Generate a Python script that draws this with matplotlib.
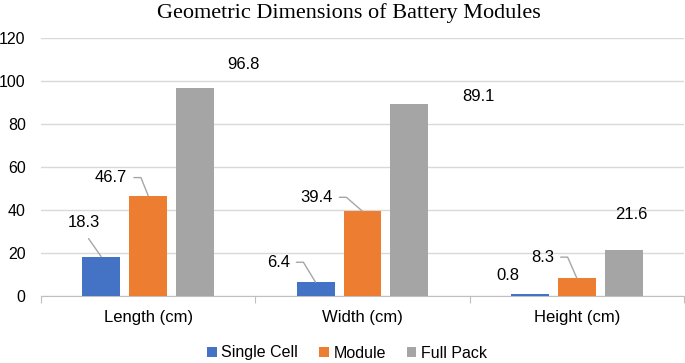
import matplotlib.pyplot as plt
import numpy as np

# data
categories = ['Length (cm)', 'Width (cm)', 'Height (cm)']
single_cell = [18.3, 6.4, 0.8]
module = [46.7, 39.4, 8.3]
full_pack = [96.8, 89.1, 21.6]

series = [('Single Cell', single_cell, '#4472C4'),
          ('Module', module, '#ED7D31'),
          ('Full Pack', full_pack, '#A5A5A5')]

# label offsets in pixels from bar top, and leader style
label_offsets = [
    [(-17, 34, 'straight'), (-37, 20, 'elbow'), (-22, 19, None)],
    [(-37, 18, 'elbow'), (-46, 14, 'elbow'), (-34, 21, 'elbow')],
    [(48, 23, None), (69, 8, None), (8, 35, None)],
]

plt.rcParams['font.family'] = ['Liberation Sans', 'DejaVu Sans']

fig = plt.figure(figsize=(6.85, 3.63), dpi=100)
ax = fig.add_axes([41/685, 1 - 296/363, 643/685, 258/363])

x = np.arange(len(categories))
step = 0.219
width = 0.177

for i, (name, vals, col) in enumerate(series):
    pos = x + (i - 1) * step
    ax.bar(pos, vals, width, color=col, label=name, zorder=3)
    for j, v in enumerate(vals):
        dx, dy, leader = label_offsets[i][j]
        txt = f'{v}'
        if leader == 'straight':
            ap = dict(arrowstyle='-', color='#A6A6A6', lw=1,
                      relpos=(0.45, 0), shrinkA=5, shrinkB=0)
        elif leader == 'elbow':
            # small gap after the text, short horizontal arm, then down to bar
            gap = 1 + 7 / (8.5 * len(txt))
            ap = dict(arrowstyle='-', color='#A6A6A6', lw=1,
                      relpos=(gap, 0.5), shrinkA=0, shrinkB=0,
                      connectionstyle='arc,angleA=0,armA=7,angleB=90,armB=0,rad=0')
        else:
            ap = None
        ax.annotate(txt, xy=(pos[j], v), xytext=(dx, dy),
                    textcoords='offset pixels', ha='center', va='center',
                    fontsize=12, color='black', arrowprops=ap, zorder=4)

ax.set_xlim(-0.5, 2.5)
ax.set_ylim(0, 120)
ax.set_yticks(range(0, 121, 20))
ax.grid(axis='y', color='#D9D9D9', lw=1, zorder=0)
ax.tick_params(axis='y', length=0, pad=11, labelsize=11.5)

ax.set_xticks([-0.5, 0.5, 1.5, 2.5])
ax.set_xticklabels([])
ax.tick_params(axis='x', which='major', length=5, color='#BFBFBF')
ax.set_xticks(x, minor=True)
ax.set_xticklabels(categories, minor=True, fontsize=12)
ax.tick_params(axis='x', which='minor', length=0, pad=10)

for s in ['top', 'right', 'left']:
    ax.spines[s].set_visible(False)
ax.spines['bottom'].set_color('#BFBFBF')

fig.text(349/685, 1 - 13/363, 'Geometric Dimensions of Battery Modules',
         ha='center', va='center', fontsize=16, family='Liberation Serif')

fig.legend(loc='center', bbox_to_anchor=(347/685, 1 - 353/363), ncol=3,
           frameon=False, fontsize=11.5, handlelength=0.6, handleheight=0.6,
           handletextpad=0.3, columnspacing=1.3)

fig.savefig('out.png', dpi=100)
